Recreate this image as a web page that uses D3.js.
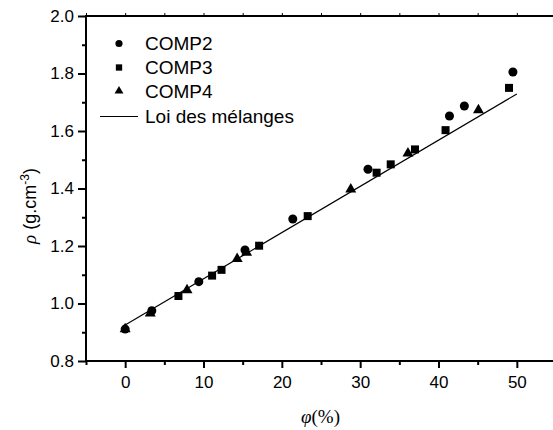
<!DOCTYPE html>
<html>
<head>
<meta charset="utf-8">
<script src="https://cdn.jsdelivr.net/npm/d3@7"></script>
<style>
  body { margin: 0; background: #fff; }
  svg { display: block; font-family: "Liberation Sans", Arial, sans-serif; }
</style>
</head>
<body>
<svg></svg>
<script>
// density vs fibre content, three composites + rule of mixtures
let comp2Phi = [0, 3.4, 9.4, 15.3, 21.4, 31.0, 41.4, 43.3, 49.5]
let comp2Rho = [0.911, 0.975, 1.076, 1.186, 1.294, 1.467, 1.652, 1.687, 1.805]

let comp3Phi = [6.8, 11.1, 12.3, 17.1, 23.3, 32.1, 33.9, 37.0, 40.9, 49.0]
let comp3Rho = [1.026, 1.097, 1.117, 1.201, 1.304, 1.455, 1.484, 1.536, 1.603, 1.750]

let comp4Phi = [0, 3.2, 7.9, 14.3, 15.5, 28.8, 36.1, 45.1]
let comp4Rho = [0.911, 0.966, 1.047, 1.155, 1.177, 1.397, 1.522, 1.673]

let lawPhi = [0, 50]
let lawRho = [0.925, 1.729]

let xMajorTicks = [0, 10, 20, 30, 40, 50]
let xMinorTicks = [-5, 5, 15, 25, 35, 45]
let yMajorTicks = [0.8, 1.0, 1.2, 1.4, 1.6, 1.8, 2.0]
let yMinorTicks = [0.9, 1.1, 1.3, 1.5, 1.7, 1.9]

let legendLabels = ["COMP2", "COMP3", "COMP4", "Loi des mélanges"]

let width = 553
let height = 430

let svg = d3.select("svg")
  .attr("width", width)
  .attr("height", height)

let xScale = d3.scaleLinear().domain([-5, 55]).range([86, 556])
let yScale = d3.scaleLinear().domain([0.8, 2.0]).range([361, 16])

let fmtY = d3.format(".1f")

// frame
svg.append("rect")
   .attr("x", xScale(-5))
   .attr("y", yScale(2.0))
   .attr("width", xScale(55) - xScale(-5))
   .attr("height", yScale(0.8) - yScale(2.0))
   .attr("fill", "none")
   .attr("stroke", "#000")
   .attr("stroke-width", 2)

let styleAxis = (g) => {
  g.select(".domain").remove()
  g.selectAll("line").attr("stroke", "#000").attr("stroke-width", 2)
  g.selectAll("text")
   .attr("fill", "#000")
   .style("font-family", "'Liberation Sans', Arial, sans-serif")
   .style("font-size", "17px")
}

// bottom axis
svg.append("g")
   .attr("transform", "translate(0," + yScale(0.8) + ")")
   .call(d3.axisBottom(xScale).tickValues(xMajorTicks).tickSizeInner(7).tickSizeOuter(0).tickPadding(8))
   .call(styleAxis)

svg.append("g")
   .attr("transform", "translate(0," + yScale(0.8) + ")")
   .call(d3.axisBottom(xScale).tickValues(xMinorTicks).tickSize(4).tickFormat(""))
   .call(styleAxis)

// top axis, small ticks only
svg.append("g")
   .attr("transform", "translate(0," + yScale(2.0) + ")")
   .call(d3.axisTop(xScale).tickValues(xMajorTicks.concat(xMinorTicks)).tickSize(3).tickFormat(""))
   .call(styleAxis)
   .selectAll("line").attr("stroke-width", 1)

// left axis
svg.append("g")
   .attr("transform", "translate(" + xScale(-5) + ",0)")
   .call(d3.axisLeft(yScale).tickValues(yMajorTicks).tickFormat(fmtY).tickSizeInner(8).tickSizeOuter(0).tickPadding(4))
   .call(styleAxis)

svg.append("g")
   .attr("transform", "translate(" + xScale(-5) + ",0)")
   .call(d3.axisLeft(yScale).tickValues(yMinorTicks).tickSize(4).tickFormat(""))
   .call(styleAxis)

// rule of mixtures line
let line = d3.line()
  .x((d, i) => xScale(lawPhi[i]))
  .y(d => yScale(d))

svg.append("path")
   .datum(lawRho)
   .attr("d", line)
   .attr("fill", "none")
   .attr("stroke", "#000")
   .attr("stroke-width", 1.2)

// scatter series
let series = [
  { phi: comp2Phi, rho: comp2Rho, type: d3.symbolCircle, size: 64, legendSize: 40 },
  { phi: comp3Phi, rho: comp3Rho, type: d3.symbolSquare, size: 64, legendSize: 40 },
  { phi: comp4Phi, rho: comp4Rho, type: d3.symbolTriangle, size: 52, legendSize: 34 }
]

series.forEach(s => {
  svg.append("g")
     .selectAll("path")
     .data(s.rho)
     .enter()
     .append("path")
     .attr("d", d3.symbol().type(s.type).size(s.size))
     .attr("transform", (d, i) => "translate(" + xScale(s.phi[i]) + "," + yScale(d) + ")")
     .attr("fill", "#000")
})

// legend
let legendY = [43.5, 67.5, 91, 116.5]
let legend = svg.append("g")

series.forEach((s, i) => {
  legend.append("path")
        .attr("d", d3.symbol().type(s.type).size(s.legendSize))
        .attr("transform", "translate(119," + legendY[i] + ")")
        .attr("fill", "#000")
})

legend.append("line")
      .attr("x1", 100).attr("x2", 138)
      .attr("y1", legendY[3]).attr("y2", legendY[3])
      .attr("stroke", "#000")
      .attr("stroke-width", 1.2)

legend.selectAll("text")
      .data(legendLabels)
      .enter()
      .append("text")
      .attr("x", 145)
      .attr("y", (d, i) => legendY[i])
      .attr("dy", "0.36em")
      .style("font-size", "19px")
      .text(d => d)

// axis titles
let xTitle = svg.append("text")
  .attr("x", 301)
  .attr("y", 423)
  .style("font-family", "'Liberation Serif', 'Times New Roman', serif")
  .style("font-size", "19px")
xTitle.append("tspan").style("font-style", "italic").text("φ")
xTitle.append("tspan").text("(%)")

let yTitle = svg.append("text")
  .attr("transform", "translate(36,206) rotate(-90)")
  .attr("text-anchor", "middle")
  .style("font-size", "18px")
yTitle.append("tspan")
      .style("font-family", "'Liberation Serif', 'Times New Roman', serif")
      .style("font-style", "italic")
      .style("font-size", "19px")
      .text("ρ")
yTitle.append("tspan").text(" (g.cm")
yTitle.append("tspan").attr("dy", -7).style("font-size", "12px").text("-3")
yTitle.append("tspan").attr("dy", 7).text(")")
</script>
</body>
</html>
